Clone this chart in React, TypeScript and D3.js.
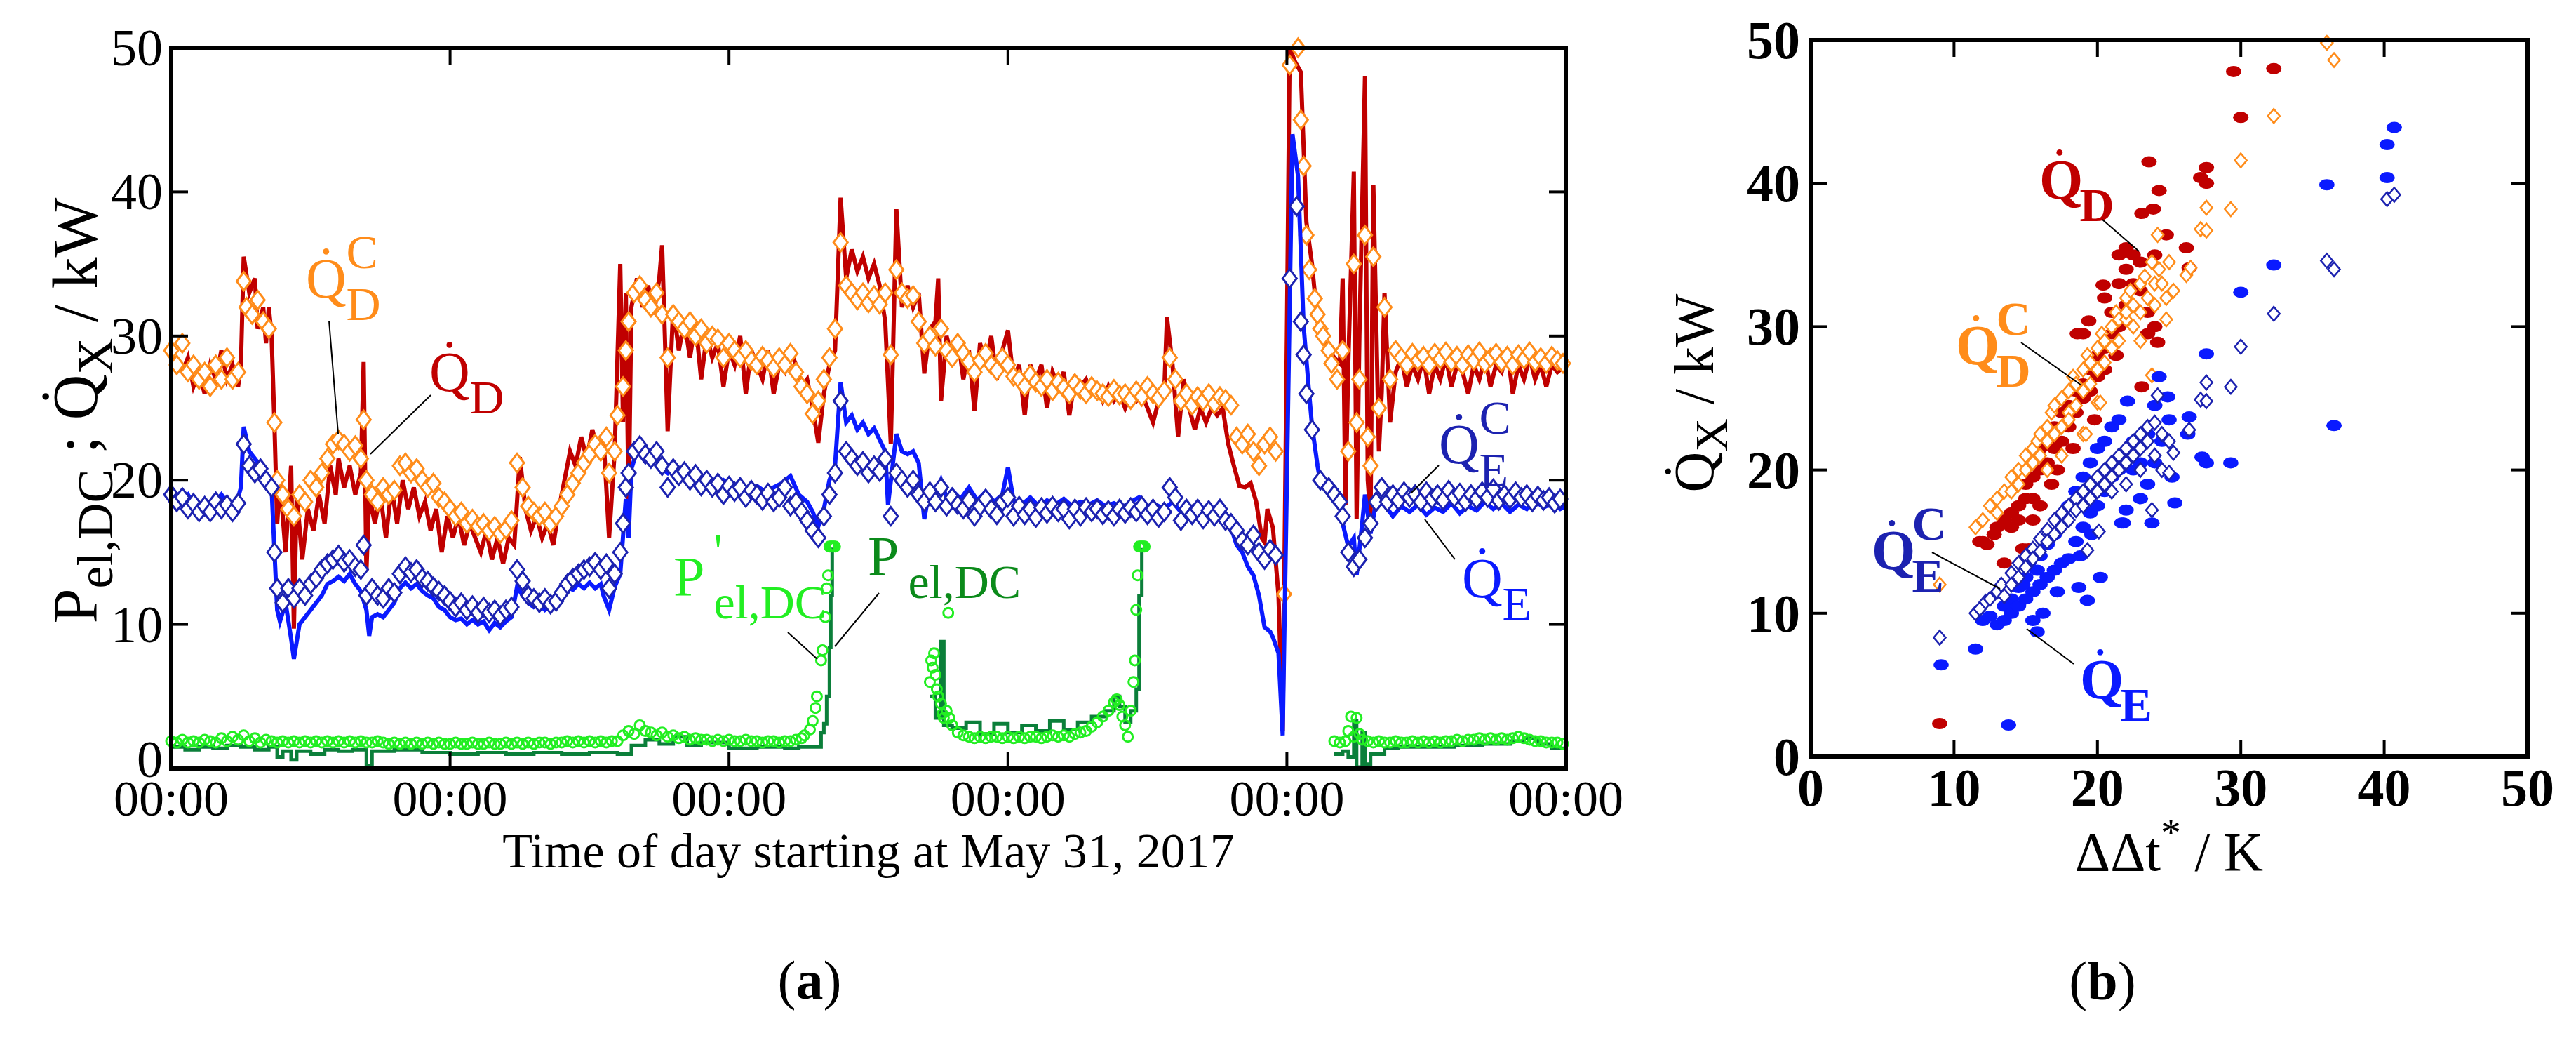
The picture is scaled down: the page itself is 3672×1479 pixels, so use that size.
import * as d3 from 'd3';
import { useEffect, useRef } from 'react';

// ---- panel (a): time series, t in days from May 31, 2017 00:00 ----
const timeTicks = [0, 1, 2, 3, 4, 5];
const timeTickLabels = ['00:00', '00:00', '00:00', '00:00', '00:00', '00:00'];
const leftYTicks = [0, 10, 20, 30, 40, 50];

const qD: number[][] = [[0,29],[0.02,28],[0.04,27.5],[0.06,28.5],[0.08,26.5],[0.1,27.5],[0.12,26],[0.14,28],[0.16,27],[0.18,29],[0.2,27],[0.22,28],[0.24,26.5],[0.25,28],[0.26,35.5],[0.28,33],[0.3,34],[0.31,30.5],[0.33,32],[0.34,29.5],[0.35,32],[0.36,30],[0.37,24],[0.38,17],[0.39,20],[0.41,15],[0.43,21],[0.44,9.7],[0.45,19],[0.47,14.5],[0.49,18],[0.51,16.5],[0.53,19],[0.55,17],[0.57,21],[0.59,19],[0.6,21.5],[0.62,19.5],[0.64,21],[0.66,19],[0.68,20.5],[0.69,28.2],[0.7,13.7],[0.71,19],[0.73,17],[0.75,19],[0.77,16],[0.79,19.5],[0.81,17],[0.83,20],[0.85,18],[0.87,19.5],[0.89,17.5],[0.91,18.5],[0.93,16.5],[0.95,18],[0.97,15],[0.99,17.5],[1.01,16],[1.03,17.5],[1.05,15.5],[1.07,17],[1.09,16],[1.11,15],[1.13,16.5],[1.15,14.5],[1.17,16],[1.19,14.2],[1.21,16],[1.23,15.5],[1.25,21.6],[1.27,18],[1.29,16.5],[1.31,17.5],[1.33,16],[1.35,17],[1.37,15.5],[1.39,18],[1.41,20],[1.43,22],[1.45,21],[1.47,23],[1.49,21.5],[1.51,23.5],[1.53,22],[1.55,23],[1.57,16],[1.59,22],[1.61,35],[1.62,24],[1.63,33],[1.64,18],[1.65,32],[1.67,34],[1.69,32],[1.71,33.5],[1.73,31.5],[1.75,34],[1.76,36.3],[1.77,30],[1.78,23.4],[1.8,32],[1.82,29],[1.84,31],[1.86,28.5],[1.88,31],[1.9,27],[1.92,30],[1.94,28.5],[1.96,29.5],[1.98,26.5],[2.0,29],[2.02,28],[2.04,30],[2.06,26],[2.08,29],[2.1,28],[2.12,27],[2.14,29],[2.16,26],[2.18,28],[2.2,27.5],[2.22,29],[2.24,28],[2.26,26.5],[2.28,27],[2.3,25],[2.32,22.6],[2.34,26],[2.36,28],[2.38,29],[2.4,39.6],[2.42,34],[2.44,36],[2.46,34.5],[2.48,35.5],[2.5,34],[2.52,35],[2.54,33.5],[2.56,31],[2.58,22.5],[2.6,38.8],[2.62,32],[2.64,33.5],[2.66,32],[2.68,33],[2.7,27.4],[2.72,30.5],[2.74,31],[2.75,34],[2.76,25.5],[2.78,30],[2.8,28.5],[2.82,30],[2.84,27],[2.86,29],[2.88,24.8],[2.9,29.5],[2.92,28],[2.94,30],[2.96,27],[2.98,29],[3.0,30.4],[3.02,27],[3.04,28],[3.06,24.5],[3.08,28],[3.1,27],[3.12,28],[3.14,25],[3.16,27.5],[3.18,26.5],[3.2,27.5],[3.22,24.5],[3.24,27],[3.26,26.5],[3.28,27],[3.3,26],[3.32,26.5],[3.34,25.5],[3.36,26.5],[3.38,25.5],[3.4,26],[3.42,25],[3.44,26],[3.46,25.5],[3.48,26],[3.5,25],[3.52,24],[3.54,25.5],[3.56,26],[3.57,31.3],[3.59,28],[3.61,23],[3.63,27],[3.65,25],[3.67,23.5],[3.69,25],[3.71,24],[3.73,25],[3.75,24.5],[3.77,25],[3.79,22.5],[3.81,21],[3.83,19.6],[3.85,19.5],[3.87,19.8],[3.89,18.5],[3.91,16],[3.92,15.7],[3.93,18],[3.95,16.7],[3.97,12],[3.985,2.6],[4.0,30],[4.01,50],[4.03,49],[4.05,48.3],[4.07,37.9],[4.09,35],[4.11,31],[4.13,30],[4.15,29],[4.17,28.5],[4.19,28.1],[4.2,34],[4.21,18.3],[4.22,28],[4.24,41.4],[4.25,17.3],[4.26,30],[4.28,48],[4.29,20],[4.3,17.3],[4.31,40.5],[4.33,22],[4.34,26.1],[4.35,33],[4.37,24],[4.39,27.5],[4.41,28.5],[4.43,26.5],[4.45,28],[4.47,27],[4.49,28.5],[4.51,26],[4.53,28],[4.55,27],[4.57,28.5],[4.59,26.5],[4.61,28],[4.63,27.5],[4.65,26],[4.67,28],[4.69,27],[4.71,28.5],[4.73,26.5],[4.75,28],[4.77,27.5],[4.79,29],[4.81,26],[4.83,28],[4.85,27],[4.87,28.5],[4.89,27],[4.91,28],[4.93,26.5],[4.95,28],[4.97,27.5],[5.0,28]];

const qE: number[][] = [[0,19],[0.03,18.5],[0.06,19],[0.09,18],[0.12,18.5],[0.15,18.3],[0.18,19],[0.21,18.2],[0.24,18.8],[0.25,19.5],[0.26,23.7],[0.28,22],[0.3,21.5],[0.32,21],[0.34,20.5],[0.36,19.5],[0.37,15.2],[0.38,11],[0.39,10.2],[0.41,11.5],[0.43,9],[0.44,7.6],[0.46,10],[0.48,10.5],[0.5,11],[0.52,11.5],[0.54,12],[0.56,12.8],[0.58,13],[0.6,13.3],[0.62,13],[0.64,13.5],[0.66,12.8],[0.68,12.3],[0.7,11],[0.71,9.2],[0.72,10.5],[0.74,10.7],[0.76,10.5],[0.78,11],[0.8,11.5],[0.82,12.5],[0.84,12.9],[0.86,12.5],[0.88,12.8],[0.9,12.3],[0.92,12],[0.94,11.8],[0.96,11.2],[0.98,11],[1.0,10.5],[1.02,10.3],[1.04,10.4],[1.06,10],[1.08,10.3],[1.1,10],[1.12,10.2],[1.14,9.6],[1.16,10.1],[1.18,9.8],[1.2,10.2],[1.22,10.5],[1.24,12.6],[1.26,12],[1.28,11.5],[1.3,11.2],[1.32,11.4],[1.34,11],[1.36,11.3],[1.38,11.2],[1.4,12],[1.42,12.6],[1.44,12.4],[1.46,12.8],[1.48,12.5],[1.5,12.9],[1.52,12.5],[1.54,12.8],[1.55,12],[1.57,11],[1.59,12.6],[1.61,13.5],[1.63,18.7],[1.64,16],[1.65,20.8],[1.67,22],[1.69,22.1],[1.71,21.5],[1.73,21.8],[1.75,21],[1.78,20.5],[1.8,21],[1.83,20.2],[1.86,20.5],[1.89,19.8],[1.92,20.2],[1.95,19.6],[1.98,20],[2.01,19.5],[2.04,19.8],[2.07,19.3],[2.1,19.6],[2.13,19.2],[2.16,19.5],[2.19,19.8],[2.22,20.3],[2.25,19],[2.28,18.5],[2.3,17.8],[2.32,16.8],[2.34,18],[2.36,20],[2.38,21],[2.4,26.8],[2.42,24],[2.44,24.5],[2.46,23.5],[2.48,24],[2.5,23.2],[2.52,23.6],[2.54,22.8],[2.56,22],[2.57,18.3],[2.6,23.2],[2.62,22],[2.64,21.8],[2.66,22],[2.68,21.2],[2.7,17.3],[2.72,19.5],[2.74,19],[2.76,20],[2.78,18.8],[2.8,19.3],[2.83,18.7],[2.86,19.5],[2.89,18.6],[2.92,19.2],[2.95,18.5],[2.98,19],[3.0,20.9],[3.02,18.6],[3.05,18.3],[3.08,18.8],[3.11,18.2],[3.14,18.6],[3.17,18.3],[3.2,18.7],[3.23,18.2],[3.26,18.5],[3.29,18.3],[3.32,18.6],[3.35,18.2],[3.38,18.4],[3.41,18.1],[3.44,18.5],[3.47,18.8],[3.5,17.8],[3.53,18.3],[3.56,18],[3.59,18.5],[3.62,17.8],[3.65,18.2],[3.68,17.5],[3.71,18],[3.74,17.6],[3.77,17.2],[3.8,16.7],[3.82,15.5],[3.84,15],[3.86,14],[3.88,13.4],[3.9,12],[3.92,9.8],[3.94,9.5],[3.95,9.1],[3.97,8],[3.985,2.3],[4.0,20],[4.02,44],[4.04,41.1],[4.06,30.7],[4.08,26],[4.09,23.8],[4.11,21],[4.12,19.9],[4.15,19.5],[4.18,19.3],[4.2,17],[4.22,15.4],[4.24,16],[4.25,13.4],[4.27,17],[4.28,19],[4.3,16.3],[4.32,18.5],[4.35,18.3],[4.38,17.5],[4.41,18.2],[4.44,17.8],[4.47,18.3],[4.5,17.6],[4.53,18.1],[4.56,17.8],[4.59,18.4],[4.62,17.7],[4.65,18.2],[4.68,17.9],[4.71,18.5],[4.74,18],[4.77,18.4],[4.8,17.8],[4.83,18.3],[4.86,18],[4.89,18.6],[4.92,18.1],[4.95,18.4],[4.98,18],[5.0,18.2]];

const qDC: number[][] = [[0,29],[0.02,28],[0.04,29.5],[0.06,27.5],[0.08,28],[0.1,27],[0.12,27.5],[0.14,26.5],[0.16,28],[0.18,27],[0.2,28.5],[0.22,27],[0.24,27.5],[0.26,33.8],[0.27,32],[0.29,31.5],[0.31,32.5],[0.33,31],[0.35,30.5],[0.37,24],[0.38,20],[0.4,19],[0.42,18],[0.44,17.5],[0.46,19],[0.48,18.5],[0.5,20],[0.52,19.5],[0.54,20.5],[0.56,21.5],[0.58,22.5],[0.6,22.8],[0.62,22.5],[0.64,22],[0.66,22.4],[0.68,21.5],[0.69,24.2],[0.7,20],[0.72,19],[0.74,18.5],[0.76,19.5],[0.78,19],[0.8,19.3],[0.82,21],[0.84,21.2],[0.86,20.5],[0.88,20.8],[0.9,20],[0.92,19.5],[0.94,19.8],[0.96,18.8],[0.98,18.5],[1.0,18],[1.02,17.5],[1.04,17.8],[1.06,17],[1.08,17.3],[1.1,16.8],[1.12,17],[1.14,16.5],[1.16,16.8],[1.18,16.3],[1.2,16.6],[1.22,17.2],[1.24,21.2],[1.26,19.5],[1.28,18.2],[1.3,17.8],[1.32,17.5],[1.34,17.8],[1.36,17],[1.38,17.5],[1.4,18.2],[1.42,19],[1.44,19.8],[1.46,20.5],[1.48,21.2],[1.5,21.8],[1.52,22.5],[1.54,22],[1.56,23],[1.57,20.5],[1.59,22],[1.6,24.5],[1.62,26.5],[1.63,29],[1.64,31],[1.66,33],[1.68,33.5],[1.7,32.5],[1.72,32],[1.74,33],[1.76,31.5],[1.78,28.5],[1.8,31.5],[1.82,31],[1.84,30.5],[1.86,31],[1.88,30],[1.9,30.5],[1.92,29.5],[1.94,30],[1.96,29.8],[1.98,28.5],[2.0,29.5],[2.02,29],[2.04,28.5],[2.06,29],[2.08,28.3],[2.1,28],[2.12,28.6],[2.14,28.3],[2.16,27.8],[2.18,28.5],[2.2,28],[2.22,28.8],[2.24,27.5],[2.26,26.5],[2.28,26],[2.3,24.6],[2.32,25.5],[2.34,27],[2.36,28.5],[2.38,30.5],[2.4,36.5],[2.42,33.5],[2.44,33],[2.46,32.5],[2.48,33],[2.5,32.3],[2.52,32.8],[2.54,32.2],[2.56,33],[2.58,28.7],[2.6,34.6],[2.62,33],[2.64,32.6],[2.66,32.8],[2.68,31],[2.7,29.5],[2.72,30],[2.74,29.3],[2.76,30.5],[2.78,29],[2.8,28.5],[2.82,29.5],[2.84,28.8],[2.86,28.2],[2.88,27.5],[2.9,28.3],[2.92,28.8],[2.94,28],[2.96,27.6],[2.98,28.5],[3.0,28],[3.02,27.2],[3.04,27],[3.06,26.5],[3.08,27.3],[3.1,26.8],[3.12,26.5],[3.14,27],[3.16,26.2],[3.18,26.8],[3.2,26.4],[3.22,26],[3.24,26.7],[3.26,26.3],[3.28,26],[3.3,26.5],[3.32,26.2],[3.34,26],[3.36,25.8],[3.38,26.3],[3.4,25.9],[3.42,26],[3.44,25.6],[3.46,26.2],[3.48,25.8],[3.5,26.5],[3.52,26],[3.54,25.7],[3.56,26.2],[3.58,28.5],[3.6,27],[3.62,25.5],[3.64,26],[3.66,25.2],[3.68,25.8],[3.7,25.5],[3.72,26],[3.74,25.3],[3.76,25.8],[3.78,25.6],[3.8,25.2],[3.82,23],[3.84,22.5],[3.86,23.2],[3.88,22],[3.9,21],[3.92,22.5],[3.94,23],[3.96,22],[3.99,12.1],[4.01,48.8],[4.04,50],[4.05,45],[4.06,41.8],[4.07,37],[4.08,34.6],[4.1,32.6],[4.11,31.5],[4.12,30.5],[4.13,30],[4.15,29],[4.16,28.1],[4.18,27],[4.2,29],[4.22,22],[4.24,35],[4.25,24],[4.26,27],[4.28,37],[4.29,23],[4.3,21],[4.31,35.5],[4.33,25],[4.35,32],[4.37,27],[4.39,29],[4.41,28.5],[4.43,28],[4.45,28.8],[4.47,28.3],[4.49,28.6],[4.51,28],[4.53,28.8],[4.55,28.4],[4.57,28.9],[4.59,28.2],[4.61,28.6],[4.63,28],[4.65,28.7],[4.67,28.3],[4.69,28.9],[4.71,28.1],[4.73,28.5],[4.75,28.8],[4.77,28.2],[4.79,28.6],[4.81,28],[4.83,28.7],[4.85,28.4],[4.87,28.9],[4.89,28.2],[4.91,28.5],[4.93,28.1],[4.95,28.6],[4.97,28.3],[4.99,28.1]];

const qEC: number[][] = [[0,19],[0.02,18.5],[0.04,18.8],[0.06,18],[0.08,18.4],[0.1,17.8],[0.12,18.2],[0.14,17.8],[0.16,18.5],[0.18,18],[0.2,18.3],[0.22,17.8],[0.24,18.4],[0.26,22.5],[0.28,21],[0.3,20.5],[0.32,20.8],[0.34,20],[0.36,19.5],[0.37,15],[0.38,12.5],[0.4,11.5],[0.42,12.5],[0.44,11.8],[0.46,12.5],[0.48,12],[0.5,12.8],[0.52,13.2],[0.54,13.8],[0.56,14.2],[0.58,14.5],[0.6,14.8],[0.62,14.3],[0.64,14.5],[0.66,14],[0.68,13.8],[0.69,15.5],[0.7,12],[0.72,12.5],[0.74,12],[0.76,11.8],[0.78,12.5],[0.8,12.2],[0.82,13.5],[0.84,14],[0.86,13.6],[0.88,13.8],[0.9,13.2],[0.92,13],[0.94,12.6],[0.96,12.3],[0.98,12],[1.0,11.6],[1.02,11.2],[1.04,11.5],[1.06,11],[1.08,11.3],[1.1,10.8],[1.12,11.2],[1.14,10.8],[1.16,11],[1.18,10.6],[1.2,11],[1.22,11.2],[1.24,13.8],[1.26,13],[1.28,12],[1.3,11.8],[1.32,11.5],[1.34,11.8],[1.36,11.4],[1.38,11.6],[1.4,12.2],[1.42,12.8],[1.44,13.2],[1.46,13.5],[1.48,13.8],[1.5,14],[1.52,14.3],[1.54,13.8],[1.56,14.2],[1.57,12.5],[1.59,13.5],[1.61,15],[1.62,17],[1.63,19.5],[1.64,20.5],[1.66,22],[1.68,22.4],[1.7,21.8],[1.72,21.5],[1.74,22],[1.76,21],[1.78,19.5],[1.8,20.8],[1.82,20.3],[1.84,20.6],[1.86,20],[1.88,20.4],[1.9,19.6],[1.92,20],[1.94,19.5],[1.96,19.8],[1.98,19],[2.0,19.6],[2.02,19.2],[2.04,19.5],[2.06,18.8],[2.08,19.3],[2.1,19],[2.12,18.6],[2.14,19.1],[2.16,18.5],[2.18,18.8],[2.2,19.5],[2.22,18.2],[2.24,18.5],[2.26,17.8],[2.28,17.2],[2.3,16.5],[2.32,16],[2.34,17.5],[2.36,19],[2.38,20.5],[2.4,25.5],[2.42,22],[2.44,21.5],[2.46,21],[2.48,21.3],[2.5,20.5],[2.52,21],[2.54,20.6],[2.56,21.5],[2.58,17.5],[2.6,20.5],[2.62,20],[2.64,19.5],[2.66,20],[2.68,19],[2.7,18.5],[2.72,19.2],[2.74,18.5],[2.76,19.5],[2.78,18.2],[2.8,18.8],[2.82,18.3],[2.84,18],[2.86,18.6],[2.88,17.5],[2.9,18.2],[2.92,18.7],[2.94,18],[2.96,17.6],[2.98,18.5],[3.0,18.8],[3.02,17.5],[3.04,18.2],[3.06,17.6],[3.08,18],[3.1,17.4],[3.12,18.1],[3.14,17.7],[3.16,18.2],[3.18,17.8],[3.2,18],[3.22,17.3],[3.24,18],[3.26,17.5],[3.28,18.1],[3.3,17.8],[3.32,18],[3.34,17.6],[3.36,17.9],[3.38,17.5],[3.4,18],[3.42,17.7],[3.44,18.1],[3.46,17.8],[3.48,18.2],[3.5,17.6],[3.52,18],[3.54,17.4],[3.56,17.8],[3.58,19.5],[3.6,18.8],[3.62,17.2],[3.64,18],[3.66,17.6],[3.68,18],[3.7,17.3],[3.72,17.9],[3.74,17.5],[3.76,18],[3.78,17.2],[3.8,17],[3.82,16.5],[3.84,15.8],[3.86,15.5],[3.88,16.2],[3.9,15],[3.92,14.5],[3.94,15.2],[3.96,14.8],[4.01,34],[4.035,39],[4.05,31],[4.06,28.7],[4.07,26],[4.09,23.5],[4.12,20],[4.15,19.5],[4.17,19],[4.19,18.5],[4.2,17.5],[4.22,15],[4.24,14],[4.26,14.5],[4.28,16],[4.3,17],[4.32,18.5],[4.34,19.5],[4.36,18.5],[4.38,19],[4.4,18.6],[4.42,19.2],[4.44,18.8],[4.46,19],[4.48,18.5],[4.5,19.2],[4.52,18.7],[4.54,19],[4.56,18.6],[4.58,19.3],[4.6,18.8],[4.62,19.1],[4.64,18.5],[4.66,19],[4.68,18.7],[4.7,19.2],[4.72,18.8],[4.74,19.4],[4.76,18.6],[4.78,19],[4.8,18.7],[4.82,19.2],[4.84,18.8],[4.86,19],[4.88,18.5],[4.9,18.9],[4.92,18.6],[4.94,18.8],[4.96,18.4],[4.98,18.7]];

// null marks a gap in the record
const pEl: (number[] | null)[] = [[0,1.5],[0.05,1.3],[0.1,1.5],[0.15,1.4],[0.2,1.6],[0.25,1.5],[0.3,1.3],[0.35,1.5],[0.38,0.8],[0.4,1.2],[0.43,0.6],[0.45,1.2],[0.5,1.0],[0.55,1.3],[0.6,1.2],[0.65,1.3],[0.7,0.2],[0.72,1.2],[0.8,1.3],[0.9,1.1],[1.0,1.0],[1.1,1.1],[1.2,1.0],[1.3,1.1],[1.4,1.0],[1.5,1.1],[1.6,1.0],[1.65,1.6],[1.7,2.0],[1.75,1.7],[1.8,2.2],[1.85,1.6],[1.9,1.8],[2.0,1.4],[2.1,1.5],[2.2,1.4],[2.25,1.5],[2.3,1.5],[2.33,2.5],[2.34,3.1],[2.35,5],[2.36,8.4],[2.365,12],[2.37,15.2],[2.38,15.4],null,[2.72,5],[2.74,3.5],[2.76,8.8],[2.77,3],[2.8,2.8],[2.85,3.2],[2.9,2.4],[2.95,3.1],[3.0,2.5],[3.05,3],[3.1,2.6],[3.15,3.3],[3.2,2.7],[3.25,3.2],[3.3,3.6],[3.35,4],[3.38,5],[3.4,4.3],[3.42,3.2],[3.44,4],[3.46,5.5],[3.47,12],[3.48,15.3],null,[4.17,1.0],[4.2,1.2],[4.22,0.8],[4.24,3.3],[4.25,0.1],[4.27,2.5],[4.28,0.3],[4.3,1.0],[4.35,1.4],[4.4,1.5],[4.5,1.5],[4.6,1.6],[4.7,1.7],[4.8,1.9],[4.85,2.1],[4.9,1.7],[4.95,1.4],[5.0,1.3]];

const pElC: number[][] = [[0,1.9],[0.02,1.8],[0.04,2.0],[0.06,1.8],[0.08,1.9],[0.1,1.8],[0.12,2.0],[0.14,1.9],[0.16,1.8],[0.18,2.1],[0.2,1.9],[0.22,2.2],[0.24,2.0],[0.26,2.3],[0.28,1.9],[0.3,2.1],[0.32,1.8],[0.34,2.0],[0.36,1.9],[0.38,1.8],[0.4,1.9],[0.42,1.8],[0.44,1.9],[0.46,1.8],[0.48,1.9],[0.5,1.8],[0.52,1.9],[0.54,1.8],[0.56,1.9],[0.58,1.8],[0.6,1.9],[0.62,1.8],[0.64,1.9],[0.66,1.8],[0.68,1.9],[0.7,1.8],[0.72,1.8],[0.74,1.9],[0.76,1.8],[0.78,1.7],[0.8,1.8],[0.82,1.7],[0.84,1.8],[0.86,1.7],[0.88,1.8],[0.9,1.7],[0.92,1.8],[0.94,1.7],[0.96,1.8],[0.98,1.7],[1.0,1.7],[1.02,1.8],[1.04,1.7],[1.06,1.7],[1.08,1.8],[1.1,1.7],[1.12,1.7],[1.14,1.8],[1.16,1.7],[1.18,1.7],[1.2,1.8],[1.22,1.7],[1.24,1.8],[1.26,1.7],[1.28,1.8],[1.3,1.7],[1.32,1.8],[1.34,1.8],[1.36,1.7],[1.38,1.8],[1.4,1.8],[1.42,1.9],[1.44,1.8],[1.46,1.9],[1.48,1.8],[1.5,1.9],[1.52,1.8],[1.54,1.9],[1.56,1.8],[1.58,1.9],[1.6,1.9],[1.62,2.3],[1.64,2.6],[1.66,2.4],[1.68,3.0],[1.7,2.6],[1.72,2.5],[1.74,2.3],[1.76,2.5],[1.78,2.2],[1.8,2.3],[1.82,2.1],[1.84,2.2],[1.86,2.0],[1.88,2.1],[1.9,2.0],[1.92,2.0],[1.94,1.9],[1.96,2.0],[1.98,1.9],[2.0,2.0],[2.02,1.9],[2.04,1.9],[2.06,2.0],[2.08,1.9],[2.1,1.9],[2.12,1.8],[2.14,1.9],[2.16,1.9],[2.18,1.8],[2.2,1.9],[2.22,1.9],[2.24,2.0],[2.26,2.1],[2.27,2.3],[2.29,2.7],[2.3,3.3],[2.31,4.2],[2.315,5],[2.33,7.5],[2.335,8.2],[2.345,10.5],[2.35,12.5],[2.355,13.4],[2.36,15.4],[2.365,15.4],[2.37,15.4],[2.375,15.4],[2.38,15.4],[2.72,6],[2.725,7.5],[2.73,7],[2.735,8],[2.74,6.5],[2.745,5.5],[2.75,5],[2.76,4.5],[2.765,3.8],[2.77,3.5],[2.78,4],[2.786,10.8],[2.79,3.5],[2.8,3],[2.82,2.5],[2.84,2.3],[2.86,2.2],[2.88,2.1],[2.9,2.2],[2.92,2.1],[2.94,2.2],[2.96,2.2],[2.98,2.1],[3.0,2.2],[3.02,2.1],[3.04,2.2],[3.06,2.1],[3.08,2.2],[3.1,2.2],[3.12,2.1],[3.14,2.2],[3.16,2.3],[3.18,2.2],[3.2,2.3],[3.22,2.2],[3.24,2.4],[3.26,2.5],[3.28,2.6],[3.3,2.9],[3.32,3.2],[3.34,3.6],[3.36,4.0],[3.38,4.6],[3.39,4.8],[3.4,4.4],[3.41,3.6],[3.42,3],[3.43,2.2],[3.44,4],[3.45,6],[3.455,7.5],[3.46,11],[3.465,13.4],[3.47,15.4],[3.475,15.4],[3.48,15.4],[3.485,15.4],[3.49,15.4],[4.17,1.9],[4.19,1.8],[4.21,1.9],[4.22,2.6],[4.23,3.6],[4.24,2.2],[4.25,3.5],[4.26,2.4],[4.27,2.0],[4.29,1.9],[4.31,1.8],[4.33,1.9],[4.35,1.8],[4.37,1.8],[4.39,1.9],[4.41,1.8],[4.43,1.8],[4.45,1.9],[4.47,1.8],[4.49,1.9],[4.51,1.8],[4.53,1.9],[4.55,1.8],[4.57,1.9],[4.59,1.9],[4.61,2.0],[4.63,1.9],[4.65,2.0],[4.67,2.0],[4.69,2.1],[4.71,2.0],[4.73,2.1],[4.75,2.0],[4.77,2.1],[4.79,2.0],[4.81,2.1],[4.83,2.2],[4.85,2.1],[4.87,2.0],[4.89,1.9],[4.91,1.9],[4.93,1.8],[4.95,1.8],[4.97,1.8],[4.99,1.7]];

// ---- panel (b): heat flow vs. ΔΔt* ----
const scatterTicks = [0, 10, 20, 30, 40, 50];

const sQD: number[][] = [[12,15],[12.3,14.8],[12.8,15.5],[13,16],[13.5,16.5],[13.5,13.5],[14,17],[14,16],[14.5,17.5],[14.5,16.5],[15,18],[15,19],[15.2,14.5],[15.5,19.5],[15.5,18],[16,20],[16,21.5],[16,17.5],[16.5,22],[16.5,20.5],[17,21.5],[17,23],[17.5,22],[17.5,24],[18,24.5],[18,23],[18.5,25.5],[18.5,24],[19,26],[19,25],[19.5,27],[19.5,25.5],[19.8,23.5],[20,28],[20,26.5],[20.5,28.5],[20.5,27],[21,29.5],[21,31],[21.3,28],[21.5,30],[21.5,33],[21.5,35],[22,35.5],[22,34],[22,31.5],[22.5,35],[22.5,33],[23,34.5],[23,32.5],[23.5,31],[23.5,29.5],[24,30],[24,35],[14.8,14.5],[15.5,16.5],[16.8,19],[17.2,20],[18.3,21.5],[19,29.5],[20.5,32],[9,2.3],[29.5,47.8],[32.3,48],[30,44.6],[23.6,41.5],[24.3,39.5],[23.1,37.9],[23.9,38.2],[24.8,36.4],[26.2,35.5],[27.2,40.4],[27.6,41.1],[27.6,40],[26.4,34.1],[20.4,32.9],[23.1,25.8],[18.6,29.5],[19.4,30.4],[24.2,28.9],[11.8,15]];

const sQDC: number[][] = [[11.5,16],[12,16.5],[12.5,17.5],[13,18],[13,17],[13.5,18.5],[14,19.5],[14,18.5],[14.5,20],[14.5,19],[15,21],[15,20],[15.5,21.5],[15.5,20.5],[15.8,22],[16,22.5],[16,21],[16.5,23],[16.5,22],[16.8,24],[17,24.5],[17,22.5],[17.5,25],[17.5,23],[18,25.5],[18,24],[18.3,26.5],[18.5,26],[18.5,24.5],[19,27],[19,25.5],[19.3,28],[19.5,27.5],[19.5,26],[20,28.5],[20,27],[20.3,29.5],[20.5,29],[20.5,27.5],[21,30],[21,28.5],[21.3,31],[21.5,30.5],[21.5,29],[22,32],[22,30.5],[22.3,32.5],[22.5,31.5],[22.5,30],[23,33],[23,31],[23.3,33.5],[23.5,32],[23.8,34.5],[24,33],[24,31.5],[24.3,34],[24.5,33],[24.8,32],[25,34.5],[25.3,32.5],[24.8,30.5],[18,23.5],[19,22.5],[17.5,21],[16.5,20],[20,24.7],[22,31],[23,29],[9,12],[36,49.8],[36.5,48.6],[32.3,44.7],[30,41.6],[27.6,38.3],[29.3,38.2],[27.2,36.8],[27.6,36.7],[24.2,36.4],[26.2,33.6],[26.5,34.1],[23.8,26.6],[20.2,24.7],[19.2,22.5]];

const sQE: number[][] = [[12,9.5],[12.5,9.8],[13,9.2],[13.5,9.5],[13.5,10.5],[14,10],[14,11],[14.5,10.5],[14.5,11.8],[15,11],[15,12.5],[15.5,11.5],[15.5,9.5],[15.8,13],[16,12],[16,14],[16.5,12.5],[16.5,14.8],[17,13],[17,15.5],[17.5,13.5],[17.5,16.5],[18,13.8],[18,17.5],[18.5,15],[18.5,18.5],[19,16],[19,19.5],[19.5,17],[19.5,20.5],[20,17.5],[20,21.5],[20.5,18.5],[20.5,22],[21,19.5],[21,23],[21.5,20],[21.5,23.5],[22,21],[22,17.2],[22.5,22],[22.5,20],[23,18],[23,20.5],[23.5,19],[23.5,22.5],[24,24.5],[24,20.5],[24.5,22],[25,23.5],[25.2,19.5],[26.3,22.5],[14.8,12],[16.2,10],[17.2,11.5],[15.2,13.5],[18.8,14],[19.6,15.5],[21.8,16.3],[9.1,6.4],[11.5,7.5],[13.8,2.2],[36.5,23.1],[36,39.9],[40.2,42.7],[40.7,43.9],[40.2,40.4],[32.3,34.3],[30,32.4],[27.6,28.1],[24.3,26.5],[24.9,25.1],[22.1,24.8],[26.4,23.7],[27.3,20.9],[27.6,20.5],[29.3,20.5],[25.4,17.7],[23.8,16.3],[21.7,16.3],[20.2,12.5],[19.3,10.9],[18.7,11.8],[15.8,8.7]];

const sQEC: number[][] = [[11.5,10],[11.8,10.3],[12.2,10.8],[12.5,11],[13,11.5],[13.3,12],[13.5,11.2],[14,12.8],[14,12],[14.5,13.5],[14.5,12.5],[15,14],[15,13.2],[15.5,14.5],[15.5,13.8],[16,15.2],[16,14.3],[16.5,15.8],[16.5,15],[17,16.5],[17,15.5],[17.5,17],[17.5,16],[18,17.5],[18,16.5],[18.5,18],[18.5,17.2],[19,18.5],[19,17.5],[19.5,19],[19.5,18],[20,19.5],[20,18.5],[20.5,20],[20.5,19],[21,20.5],[21,19.5],[21.5,21],[21.5,20],[22,21.5],[22,20.5],[22.5,22],[22.5,21],[23,22.5],[23,21.5],[23.5,23],[23.5,22],[24,23.3],[24,21],[24.5,22.5],[24.5,20],[25,22],[25,19.8],[25.3,21.2],[24.2,25.2],[23,20],[22,19],[21,18.5],[9,8.3],[40.2,38.9],[40.7,39.2],[36,34.6],[36.5,34],[32.3,30.9],[30,28.6],[29.3,25.8],[27.6,26.1],[27.2,24.9],[27.6,24.8],[26.4,22.8],[20.1,15.7],[23.8,17.2],[19.3,14.4]];

const C = {
    red: '#c00000', orange: '#ff8c1a', blue: '#0a1aff', navy: '#1c22b0',
    dkgreen: '#0b7f3a', ltgreen: '#22ee22', greenLabel: '#0b8a1a',
};
const FONT = "'Liberation Serif', 'Times New Roman', serif";

const diamond = (hw: number, hh: number) => `M0,${-hh}L${hw},0L0,${hh}L${-hw},0Z`;

export default function App() {
    const ref = useRef<SVGGElement>(null);

    useEffect(() => {
        const root = d3.select(ref.current);
        root.selectAll('*').remove();

        // ======= panel (a) =======
        const x = d3.scaleLinear().domain([0, 5]).range([244, 2232]);
        const y = d3.scaleLinear().domain([0, 50]).range([1095, 68]);
        const a = root.append('g');

        const line = d3.line<number[]>().x(d => x(d[0])).y(d => y(d[1]));
        a.append('path').attr('d', line(qD)).attr('fill', 'none').attr('stroke', C.red).attr('stroke-width', 6);
        a.selectAll('.dc').data(qDC).join('path').attr('d', diamond(10, 13))
            .attr('transform', d => `translate(${x(d[0])},${y(d[1])})`)
            .attr('fill', 'white').attr('stroke', C.orange).attr('stroke-width', 3);
        a.append('path').attr('d', line(qE)).attr('fill', 'none').attr('stroke', C.blue).attr('stroke-width', 6);
        a.selectAll('.ec').data(qEC).join('path').attr('d', diamond(10, 13))
            .attr('transform', d => `translate(${x(d[0])},${y(d[1])})`)
            .attr('fill', 'white').attr('stroke', C.navy).attr('stroke-width', 3);

        const step = d3.line<any>().defined(d => d !== null).x(d => x(d[0])).y(d => y(d[1])).curve(d3.curveStepAfter);
        a.append('path').attr('d', step(pEl as any)).attr('fill', 'none').attr('stroke', C.dkgreen).attr('stroke-width', 5);
        a.selectAll('.pc').data(pElC).join('circle')
            .attr('cx', d => x(d[0])).attr('cy', d => y(d[1])).attr('r', 7)
            .attr('fill', 'none').attr('stroke', C.ltgreen).attr('stroke-width', 3);

        // frame + inward ticks
        const frame = (g: any, xs: any, ys: any, xt: number[], yt: number[]) => {
            const [x0, x1] = xs.range(); const [y0, y1] = ys.range();
            g.append('rect').attr('x', x0).attr('y', y1).attr('width', x1 - x0).attr('height', y0 - y1)
                .attr('fill', 'none').attr('stroke', 'black').attr('stroke-width', 6);
            xt.forEach(v => {
                g.append('line').attr('x1', xs(v)).attr('x2', xs(v)).attr('y1', y0).attr('y2', y0 - 24).attr('stroke', 'black').attr('stroke-width', 4);
                g.append('line').attr('x1', xs(v)).attr('x2', xs(v)).attr('y1', y1).attr('y2', y1 + 24).attr('stroke', 'black').attr('stroke-width', 4);
            });
            yt.forEach(v => {
                g.append('line').attr('x1', x0).attr('x2', x0 + 24).attr('y1', ys(v)).attr('y2', ys(v)).attr('stroke', 'black').attr('stroke-width', 4);
                g.append('line').attr('x1', x1).attr('x2', x1 - 24).attr('y1', ys(v)).attr('y2', ys(v)).attr('stroke', 'black').attr('stroke-width', 4);
            });
        };
        frame(a, x, y, timeTicks, leftYTicks);
        a.selectAll('.xl').data(timeTicks).join('text').text((d, i) => timeTickLabels[i])
            .attr('x', d => x(d)).attr('y', 1162).attr('text-anchor', 'middle')
            .attr('font-family', FONT).attr('font-size', 72);
        a.selectAll('.yl').data(leftYTicks).join('text').text(d => d)
            .attr('x', 232).attr('y', d => y(d) + (d === 0 ? 12 : 25)).attr('text-anchor', 'end')
            .attr('font-family', FONT).attr('font-size', 74);

        // ======= panel (b) =======
        const sx = d3.scaleLinear().domain([0, 50]).range([2581, 3603]);
        const sy = d3.scaleLinear().domain([0, 50]).range([1078, 57]);
        const b = root.append('g');
        b.selectAll('.sd').data(sQD).join('ellipse').attr('cx', d => sx(d[0])).attr('cy', d => sy(d[1]))
            .attr('rx', 11).attr('ry', 8).attr('fill', C.red);
        b.selectAll('.sdc').data(sQDC).join('path').attr('d', diamond(8.5, 10))
            .attr('transform', d => `translate(${sx(d[0])},${sy(d[1])})`)
            .attr('fill', 'white').attr('stroke', C.orange).attr('stroke-width', 2.5);
        b.selectAll('.se').data(sQE).join('ellipse').attr('cx', d => sx(d[0])).attr('cy', d => sy(d[1]))
            .attr('rx', 11).attr('ry', 8).attr('fill', C.blue);
        b.selectAll('.sec').data(sQEC).join('path').attr('d', diamond(8.5, 10))
            .attr('transform', d => `translate(${sx(d[0])},${sy(d[1])})`)
            .attr('fill', 'white').attr('stroke', C.navy).attr('stroke-width', 2.5);
        frame(b, sx, sy, scatterTicks, scatterTicks);
        b.selectAll('.bx').data(scatterTicks).join('text').text(d => d)
            .attr('x', d => sx(d)).attr('y', 1148).attr('text-anchor', 'middle')
            .attr('font-family', FONT).attr('font-size', 76).attr('font-weight', 'bold');
        b.selectAll('.by').data(scatterTicks).join('text').text(d => d)
            .attr('x', 2566).attr('y', d => sy(d) + 26).attr('text-anchor', 'end')
            .attr('font-family', FONT).attr('font-size', 76).attr('font-weight', 'bold');
    }, []);

    // label: dotted Q (or P) with sub / sup
    const Lbl = ({ x, y, color, main = 'Q', dot = true, sub, sup, size = 80, bold = false }: any) => (
        <g fill={color} fontFamily={FONT} fontWeight={bold ? 'bold' : 'normal'}>
            <text x={x} y={y} fontSize={size}>{main}</text>
            {dot && <circle cx={x + size * 0.36} cy={y - size * 0.82} r={size * 0.055} />}
            {sup && <text x={x + size * 0.72} y={y - size * 0.52} fontSize={size * 0.85}>{sup}</text>}
            {sub && <text x={x + size * 0.72} y={y + size * 0.4} fontSize={size * 0.85}>{sub}</text>}
        </g>
    );
    const L = (x1: number, y1: number, x2: number, y2: number) =>
        <line x1={x1} y1={y1} x2={x2} y2={y2} stroke="black" strokeWidth={2} />;

    return (
        <svg width={3672} height={1479} style={{ position: 'absolute', left: 0, top: 0, background: 'white' }}>
            <g ref={ref} />
            {/* panel (a) annotations */}
            <Lbl x={436} y={424} color={C.orange} sub="D" sup="C" />
            {L(469, 457, 482, 618)}
            <Lbl x={612} y={557} color={C.red} sub="D" />
            {L(614, 563, 528, 647)}
            <Lbl x={960} y={849} color={C.ltgreen} main="P" dot={false} sub="el,DC" sup="'" />
            {L(1123, 901, 1165, 939)}
            <Lbl x={1237} y={820} color={C.greenLabel} main="P" dot={false} sub="el,DC" />
            {L(1253, 845, 1190, 921)}
            <Lbl x={2051} y={660} color={C.navy} sub="E" sup="C" />
            {L(2051, 663, 2011, 703)}
            <Lbl x={2084} y={851} color={C.blue} sub="E" />
            {L(2074, 797, 2031, 740)}

            <text transform="translate(138,585) rotate(-90)" textAnchor="middle" fontFamily={FONT} fontSize={90}>
                P<tspan fontSize={72} dy={22}>el,DC</tspan><tspan dy={-22}> ; Q̇</tspan><tspan fontSize={72} dy={22}>X</tspan><tspan dy={-22}> / kW</tspan>
            </text>
            <text x={1238} y={1236} textAnchor="middle" fontFamily={FONT} fontSize={70}>Time of day starting at May 31, 2017</text>
            <text x={1154} y={1423} textAnchor="middle" fontFamily={FONT} fontSize={78}>(<tspan fontWeight="bold">a</tspan>)</text>

            {/* panel (b) annotations */}
            <Lbl x={2907} y={283} color={C.red} sub="D" bold />
            {L(2997, 313, 3049, 358)}
            <Lbl x={2788} y={519} color={C.orange} sub="D" sup="C" bold />
            {L(2881, 488, 2967, 549)}
            <Lbl x={2668} y={811} color={C.navy} sub="E" sup="C" bold />
            {L(2754, 787, 2851, 839)}
            <Lbl x={2965} y={995} color={C.blue} sub="E" bold />
            {L(2956, 946, 2889, 896)}

            <text transform="translate(2442,560) rotate(-90)" textAnchor="middle" fontFamily={FONT} fontSize={80}>
                Q̇<tspan fontSize={66} dy={20}>X</tspan><tspan dy={-20}> / kW</tspan>
            </text>
            <text x={3092} y={1240} textAnchor="middle" fontFamily={FONT} fontSize={78}>ΔΔt<tspan fontSize={58} dy={-34}>*</tspan><tspan dy={34}> / K</tspan></text>
            <text x={2997} y={1424} textAnchor="middle" fontFamily={FONT} fontSize={78}>(<tspan fontWeight="bold">b</tspan>)</text>
        </svg>
    );
}
